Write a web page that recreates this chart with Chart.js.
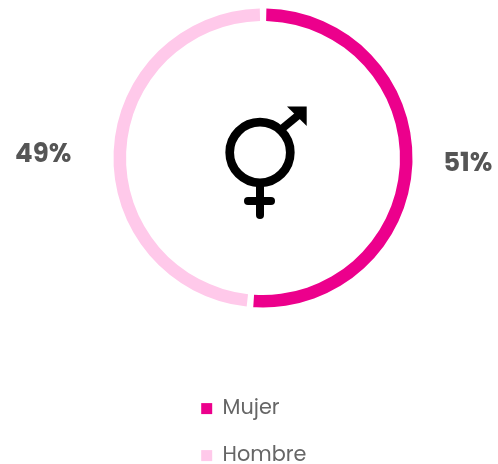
<!DOCTYPE html>
<html>
<head>
<meta charset="utf-8">
<script src="https://cdn.jsdelivr.net/npm/chart.js@4"></script>
<style>html,body{margin:0;padding:0;background:#fff}canvas{display:block}</style>
</head>
<body>
<canvas id="c" width="498" height="464"></canvas>
<script>
const categories = ['Mujer', 'Hombre'];
const values = [51.4, 48.6];
const colors = ['#EC008C', '#FFC9EA'];
const FONT = 'Poppins, Inter, "Open Sans", sans-serif';

const legendPlace = {
  id: 'legendPlace',
  afterLayout(chart) {
    const l = chart.legend;
    l.left = 175; l.top = 372; l.right = 400; l.bottom = 600;
  }
};

const labelsPlugin = {
  id: 'labelsPlugin',
  afterDatasetsDraw(chart) {
    const { ctx } = chart;
    const arcs = chart.getDatasetMeta(0).data;
    const total = values.reduce((a, b) => a + b, 0);
    ctx.save();
    ctx.fillStyle = '#555555';
    ctx.font = 'bold 26px ' + FONT;
    ctx.textAlign = 'center';
    ctx.textBaseline = 'middle';
    arcs.forEach((arc, i) => {
      const p = arc.getProps(['x', 'y', 'startAngle', 'endAngle'], true);
      const mid = (p.startAngle + p.endAngle) / 2;
      const x = p.x + Math.cos(mid) * (i === 0 ? 205 : 220);
      const y = p.y + Math.sin(mid) * 100 + 2;
      ctx.fillText(Math.round(values[i] / total * 100) + '%', x, y);
    });
    ctx.restore();
  }
};

const symbolPlugin = {
  id: 'symbolPlugin',
  afterDatasetsDraw(chart) {
    const { ctx } = chart;
    const arc = chart.getDatasetMeta(0).data[0];
    const c = arc.getProps(['x', 'y'], true);
    ctx.save();
    ctx.translate(c.x - 3, c.y - 5.5);
    ctx.strokeStyle = '#000'; ctx.fillStyle = '#000';
    ctx.lineWidth = 8.7;
    ctx.beginPath(); ctx.arc(0, 0, 30.3, 0, Math.PI * 2); ctx.stroke();
    ctx.lineWidth = 8; ctx.lineCap = 'round';
    ctx.beginPath(); ctx.moveTo(0, 34); ctx.lineTo(0, 62.5); ctx.stroke();
    ctx.beginPath(); ctx.moveTo(-12, 48.5); ctx.lineTo(11, 48.5); ctx.stroke();
    ctx.lineCap = 'butt'; ctx.lineWidth = 8;
    ctx.beginPath(); ctx.moveTo(21, -23); ctx.lineTo(38, -37); ctx.stroke();
    ctx.beginPath(); ctx.moveTo(27, -46); ctx.lineTo(46.7, -46); ctx.lineTo(46.7, -26.5); ctx.closePath(); ctx.fill();
    ctx.restore();
  }
};

new Chart(document.getElementById('c'), {
  type: 'doughnut',
  data: {
    labels: categories,
    datasets: [{ data: values, backgroundColor: colors, borderWidth: 0, spacing: 4, radius: 147.5, cutout: '91.5%' }]
  },
  options: {
    responsive: false,
    animation: false,
    layout: { padding: { left: 28, top: 0, right: 0, bottom: 148 } },
    plugins: {
      tooltip: { enabled: false },
      legend: {
        position: 'chartArea',
        align: 'start',
        labels: { boxWidth: 11, boxHeight: 11, padding: 26.2, color: '#666666', font: { family: FONT, size: 20.8 } }
      }
    }
  },
  plugins: [legendPlace, labelsPlugin, symbolPlugin]
});
</script>
</body>
</html>
